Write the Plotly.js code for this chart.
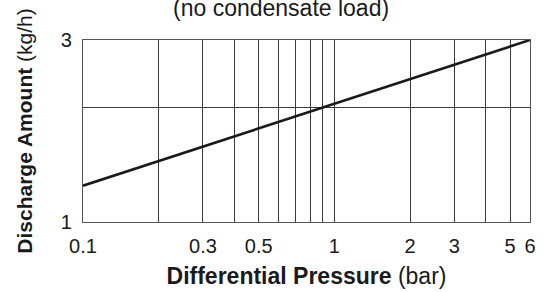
<!DOCTYPE html>
<html><head><meta charset="utf-8">
<script src="https://cdn.plot.ly/plotly-3.0.1.min.js"></script>
<style>html,body{margin:0;padding:0;background:#fff}#c{width:553px;height:292px}</style>
</head><body><div id="c"></div>
<script>
// Data
const pressure = [0.1, 1, 6];          // bar
const discharge = [1.245, 2.04, 3.0];  // kg/h
const xTickVals = [0.1,0.2,0.3,0.4,0.5,0.6,0.7,0.8,0.9,1,2,3,4,5,6];
const xTickText = ['0.1','','0.3','','0.5','','','','','1','2','3','','5','6'];
const yTickVals = [1,2,3];
const yTickText = ['1','','3'];

const trace = {
  x: pressure, y: discharge, type: 'scatter', mode: 'lines',
  line: {color: '#1a1a1a', width: 2.6}, hoverinfo: 'skip', showlegend: false
};
const layout = {
  width: 553, height: 292,
  margin: {l: 83, r: 23, t: 40, b: 70},
  paper_bgcolor: '#fff', plot_bgcolor: '#fff',
  font: {family: 'Liberation Sans, Arial, sans-serif', color: '#1a1a1a', size: 20},
  xaxis: {
    type: 'log', range: [Math.log10(0.1), Math.log10(6)],
    tickvals: xTickVals, ticktext: xTickText,
    ticks: 'outside', ticklen: 6, tickcolor: 'rgba(0,0,0,0)',
    showgrid: true, gridcolor: '#3a3a3a', gridwidth: 1,
    showline: true, linecolor: '#555', linewidth: 1.2, mirror: true,
    zeroline: false, fixedrange: true,
    title: {text: '<b>Differential Pressure</b> (bar)', font: {size: 23}, standoff: 11}
  },
  yaxis: {
    type: 'log', range: [0, Math.log10(3)],
    tickvals: yTickVals, ticktext: yTickText,
    ticks: 'outside', ticklen: 6, tickcolor: 'rgba(0,0,0,0)',
    showgrid: true, gridcolor: '#3a3a3a', gridwidth: 1,
    showline: true, linecolor: '#555', linewidth: 1.2, mirror: true,
    zeroline: false, fixedrange: true,
    title: {text: '<b>Discharge Amount</b> (kg/h)', font: {size: 21}, standoff: 22}
  },
  annotations: [{
    text: '(no condensate load)', xref: 'paper', yref: 'paper',
    x: 0.443, y: 1.095, xanchor: 'center', yanchor: 'bottom',
    showarrow: false, font: {size: 23, color: '#1a1a1a'}
  }]
};
Plotly.newPlot('c', [trace], layout, {staticPlot: true, displayModeBar: false});
</script></body></html>
